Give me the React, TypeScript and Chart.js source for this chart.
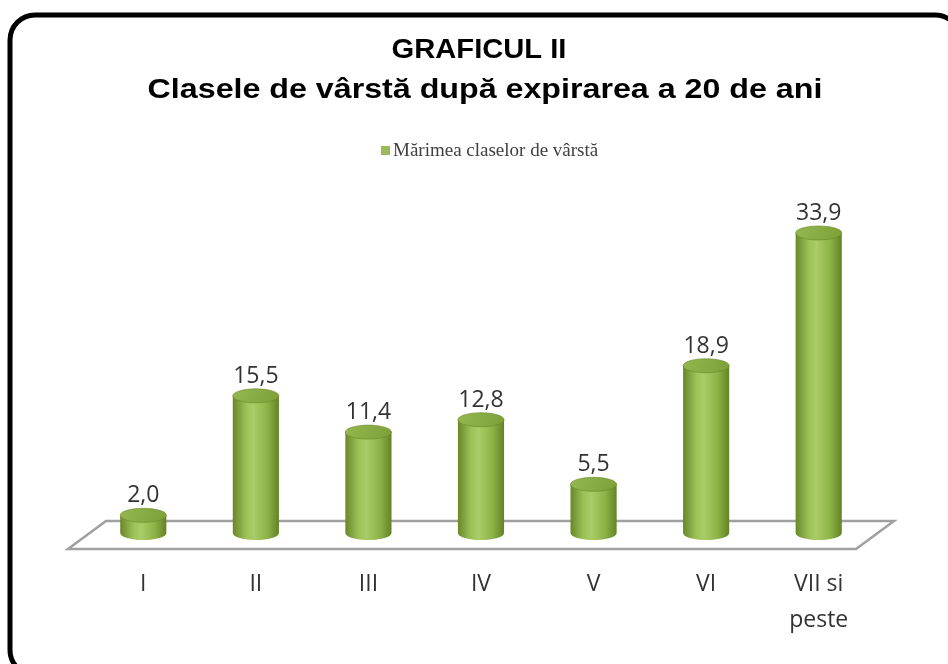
import { useEffect, useRef } from "react";
import { Chart, registerables } from "chart.js";

Chart.register(...registerables);

const categories: (string | string[])[] = ["I", "II", "III", "IV", "V", "VI", ["VII si", "peste"]];
const values: number[] = [2.0, 15.5, 11.4, 12.8, 5.5, 18.9, 33.9];
const titleLines: string[] = ["GRAFICUL II", "Clasele de vârstă după expirarea a 20 de ani"];
const seriesName = "Mărimea claselor de vârstă";

const fmt = (v: number) => v.toFixed(1).replace(".", ",");

const deco = {
  id: "deco",
  beforeDraw(chart: any) {
    const ctx = chart.ctx as CanvasRenderingContext2D;
    ctx.save();
    ctx.fillStyle = "#ffffff";
    ctx.fillRect(0, 0, chart.width, chart.height);
    // frame
    ctx.lineWidth = 5;
    ctx.strokeStyle = "#000000";
    ctx.beginPath();
    (ctx as any).roundRect(10, 15, 950, 660, 25);
    ctx.stroke();
    // title
    ctx.fillStyle = "#000000";
    ctx.textAlign = "center";
    ctx.textBaseline = "middle";
    ctx.save();
    ctx.translate(479, 51);
    ctx.scale(1.08, 1);
    ctx.font = "bold 27px 'Liberation Sans', Arial, sans-serif";
    ctx.fillText(titleLines[0], 0, 0);
    ctx.restore();
    ctx.save();
    ctx.translate(485, 90);
    ctx.scale(1.15, 1);
    ctx.font = "bold 28px 'Liberation Sans', Arial, sans-serif";
    ctx.fillText(titleLines[1], 0, 0);
    ctx.restore();
    // legend
    ctx.fillStyle = "#9bbb59";
    ctx.fillRect(381, 146, 9, 9);
    ctx.fillStyle = "#404040";
    ctx.textAlign = "left";
    ctx.font = "19px 'Liberation Serif', 'Times New Roman', serif";
    ctx.fillText(seriesName, 393, 151);
    ctx.restore();
  },
  beforeDatasetsDraw(chart: any) {
    const ctx = chart.ctx as CanvasRenderingContext2D;
    const ca = chart.chartArea;
    const base = chart.scales.y.getPixelForValue(0);
    const dx = 19;
    ctx.save();
    ctx.strokeStyle = "#a0a0a0";
    ctx.lineWidth = 2.5;
    ctx.lineJoin = "miter";
    ctx.beginPath();
    ctx.moveTo(ca.left + dx, base - 12);
    ctx.lineTo(ca.right + dx, base - 12);
    ctx.lineTo(ca.right - dx, base + 16);
    ctx.lineTo(ca.left - dx, base + 16);
    ctx.closePath();
    ctx.stroke();
    ctx.restore();
  },
  afterDatasetsDraw(chart: any) {
    const ctx = chart.ctx as CanvasRenderingContext2D;
    const meta = chart.getDatasetMeta(0);
    ctx.save();
    meta.data.forEach((el: any, i: number) => {
      const { x, y, base, width } = el.getProps(["x", "y", "base", "width"], true);
      const rx = width / 2;
      const ry = 7;
      const g = ctx.createLinearGradient(x - rx, 0, x + rx, 0);
      g.addColorStop(0, "#688828");
      g.addColorStop(0.28, "#9cc056");
      g.addColorStop(0.45, "#abcc66");
      g.addColorStop(0.75, "#8db246");
      g.addColorStop(1, "#638326");
      ctx.beginPath();
      ctx.moveTo(x - rx, y);
      ctx.lineTo(x - rx, base);
      ctx.ellipse(x, base, rx, ry, 0, Math.PI, 0, true);
      ctx.lineTo(x + rx, y);
      ctx.closePath();
      ctx.fillStyle = g;
      ctx.fill();
      const gt = ctx.createLinearGradient(x - rx, y - ry, x + rx, y + ry);
      gt.addColorStop(0, "#94b74f");
      gt.addColorStop(1, "#7c9f37");
      ctx.beginPath();
      ctx.ellipse(x, y, rx, ry, 0, 0, Math.PI * 2);
      ctx.fillStyle = gt;
      ctx.fill();
      ctx.strokeStyle = "rgba(105,135,40,0.6)";
      ctx.lineWidth = 1;
      ctx.stroke();
      ctx.fillStyle = "#333333";
      ctx.font = "23px 'Open Sans', sans-serif";
      ctx.textAlign = "center";
      ctx.textBaseline = "alphabetic";
      ctx.fillText(fmt(values[i]), x, y - ry - 6);
    });
    ctx.restore();
  },
};

export default function App() {
  const ref = useRef<HTMLCanvasElement>(null);
  useEffect(() => {
    const chart = new Chart(ref.current!, {
      type: "bar",
      data: {
        labels: categories as any,
        datasets: [
          {
            label: seriesName,
            data: values,
            backgroundColor: "rgba(0,0,0,0)",
            borderWidth: 0,
            barPercentage: 0.41,
            categoryPercentage: 1.0,
          },
        ],
      },
      options: {
        responsive: false,
        animation: false,
        devicePixelRatio: 1,
        layout: { padding: { top: 179, left: 87, right: 73, bottom: 0 } },
        plugins: {
          legend: { display: false },
          title: { display: false },
          tooltip: { enabled: false },
        },
        scales: {
          x: {
            grid: { display: false, drawTicks: false },
            border: { display: false },
            ticks: {
              font: { family: "'Open Sans', sans-serif", size: 23, lineHeight: 1.55 },
              color: "#333333",
              padding: 34,
              maxRotation: 0,
              autoSkip: false,
            },
            afterFit(scale: any) {
              scale.height = 131;
            },
          },
          y: { display: false, min: 0, max: 40 },
        },
      },
      plugins: [deco],
    });
    return () => chart.destroy();
  }, []);
  return (
    <div style={{ position: "fixed", left: 0, top: 0, width: 948, height: 664 }}>
      <canvas ref={ref} width={948} height={664} style={{ display: "block" }} />
    </div>
  );
}
